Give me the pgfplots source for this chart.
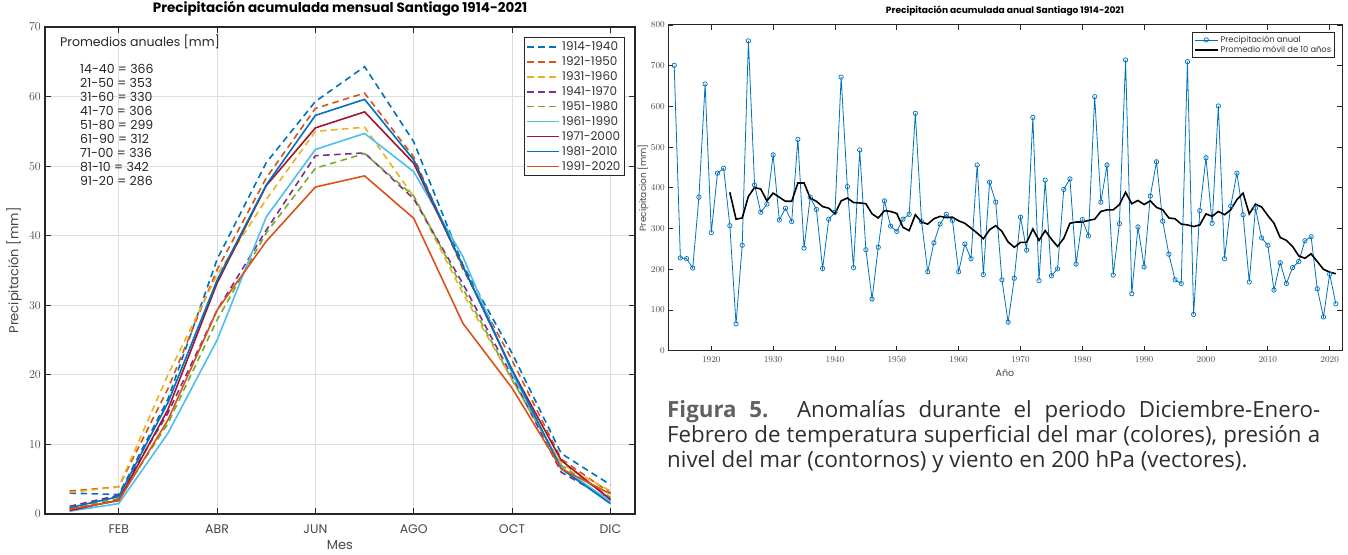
\documentclass[border=0pt]{standalone}
\usepackage{fontspec}
\setmainfont{Poppins}
\newfontfamily\capfont{Open Sans}
\usepackage{pgfplots}
\usepackage{pgfplotstable}
\pgfplotsset{compat=1.18}
\definecolor{mblue}{rgb}{0,0.447,0.741}
\definecolor{morange}{rgb}{0.85,0.325,0.098}
\definecolor{myellow}{rgb}{0.929,0.694,0.125}
\definecolor{mpurple}{rgb}{0.494,0.184,0.556}
\definecolor{mgreen}{rgb}{0.466,0.674,0.188}
\definecolor{mlblue}{rgb}{0.301,0.745,0.933}
\definecolor{mred}{rgb}{0.635,0.078,0.184}
\definecolor{axgray}{rgb}{0.15,0.15,0.15}

\pgfplotstableread{
m   s1    s2    s3    s4    s5    s6    s7    s8    s9
1   3.0   3.3   3.1   1.1   0.8   0.4   0.5   0.9   0.7
2   2.8   3.9   3.9   2.7   2.2   1.5   2.0   2.5   1.9
3   16.5  18.0  20.0  14.5  13.0  11.6  15.0  16.0  13.5
4   36.6  35.1  34.4  29.3  27.9  25.0  33.2  33.6  29.3
5   50.5  48.3  45.2  40.8  40.4  42.7  47.2  47.3  39.2
6   59.3  58.3  55.0  51.5  49.7  52.4  55.5  57.3  47.0
7   64.3  60.5  55.6  51.9  51.8  54.7  57.8  59.6  48.6
8   53.5  51.3  45.6  45.3  45.7  49.2  50.4  50.9  42.5
9   35.8  35.2  31.7  33.1  32.4  37.0  35.6  35.6  27.4
10  23.1  22.1  19.3  19.8  19.3  20.2  20.7  20.7  18.1
11  8.7   7.9   7.2   6.0   7.0   6.7   7.7   6.5   6.5
12  4.2   3.0   3.3   2.0   2.4   1.8   2.1   1.5   2.9
}\monthly

\pgfplotstableread{
year pp
1914 701
1915 228
1916 226
1917 203
1918 377
1919 655
1920 290
1921 436
1922 448
1923 307
1924 66
1925 259
1926 761
1927 407
1928 340
1929 360
1930 481
1931 321
1932 350
1933 317
1934 519
1935 252
1936 377
1937 347
1938 202
1939 323
1940 340
1941 672
1942 403
1943 204
1944 493
1945 248
1946 127
1947 254
1948 368
1949 306
1950 293
1951 323
1952 335
1953 583
1954 317
1955 194
1956 265
1957 311
1958 335
1959 320
1960 194
1961 262
1962 226
1963 456
1964 187
1965 414
1966 365
1967 174
1968 70
1969 178
1970 328
1971 247
1972 573
1973 172
1974 419
1975 184
1976 201
1977 396
1978 422
1979 213
1980 322
1981 282
1982 624
1983 365
1984 456
1985 186
1986 312
1987 714
1988 140
1989 304
1990 206
1991 380
1992 464
1993 318
1994 237
1995 174
1996 165
1997 710
1998 89
1999 344
2000 474
2001 313
2002 601
2003 226
2004 355
2005 436
2006 334
2007 169
2008 350
2009 277
2010 259
2011 149
2012 216
2013 165
2014 204
2015 219
2016 270
2017 280
2018 152
2019 83
2020 188
2021 115
}\annual

\pgfplotstableread{
year ma
1923 389
1924 323
1925 326
1926 379
1927 401
1928 397
1929 368
1930 387
1931 377
1932 367
1933 367
1934 412
1935 412
1936 375
1937 367
1938 354
1939 350
1940 336
1941 368
1942 375
1943 364
1944 363
1945 361
1946 336
1947 326
1948 344
1949 342
1950 337
1951 303
1952 295
1953 334
1954 316
1955 311
1956 324
1957 330
1958 327
1959 328
1960 319
1961 313
1962 301
1963 289
1964 275
1965 297
1966 307
1967 293
1968 267
1969 254
1970 266
1971 266
1972 299
1973 271
1974 295
1975 274
1976 256
1977 276
1978 313
1979 316
1980 316
1981 320
1982 323
1983 342
1984 346
1985 346
1986 359
1987 389
1988 361
1989 369
1990 359
1991 368
1992 352
1993 346
1994 326
1995 324
1996 311
1997 309
1998 305
1999 309
2000 336
2001 330
2002 342
2003 334
2004 346
2005 371
2006 387
2007 336
2008 360
2009 353
2010 332
2011 313
2012 278
2013 271
2014 256
2015 233
2016 227
2017 238
2018 219
2019 200
2020 193
2021 189
}\movavg

\begin{document}
\begin{tikzpicture}
\useasboundingbox (0pt,0pt) rectangle (1348pt,554pt);

% ---------------- Left chart ----------------
\begin{axis}[
  at={(45pt,40pt)}, anchor=south west,
  scale only axis, width=590pt, height=487pt,
  xmin=0.5, xmax=12.5, ymin=0, ymax=70,
  xtick={2,4,6,8,10,12},
  xticklabels={FEB,ABR,JUN,AGO,OCT,DIC},
  ytick={0,10,20,30,40,50,60,70},
  grid=major,
  grid style={black!13, line width=0.8pt},
  tick align=inside,
  major tick length=6pt,
  every tick/.style={axgray, line width=1pt},
  axis line style={axgray, line width=1.3pt},
  tick label style={font=\fontsize{12.5}{14}\selectfont, text=black!72},
  xticklabel style={anchor=base, yshift=-19pt, inner sep=0pt},
  yticklabel style={anchor=east, inner sep=0pt, xshift=-4pt},
  title={\bfseries Precipitación acumulada mensual Santiago 1914-2021},
  title style={at={(axis description cs:0.5,1)}, anchor=base, yshift=8pt, inner sep=0pt, font=\fontsize{13.5}{15}\selectfont},
  xlabel={Mes},
  xlabel style={at={(axis description cs:0.5,-0.0719)}, anchor=base, inner sep=0pt, font=\fontsize{13}{15}\selectfont, text=black!72},
  ylabel={Precipitación [mm]},
  ylabel style={at={(axis description cs:-0.0525,0.5)}, anchor=center, inner sep=0pt, font=\fontsize{13}{15}\selectfont, text=black!72},
  legend cell align=left,
  legend style={at={(rel axis cs:0.983,0.979)}, anchor=north east,
    draw=axgray, line width=1pt, font=\fontsize{12}{15.5}\selectfont,
    row sep=0.6pt, inner sep=2pt, text=black!80},
  legend image code/.code={\draw[#1, line width=1.6pt] (0pt,0pt) -- (32pt,0pt);},
  every axis plot/.append style={line width=1.6pt},
]
\addplot[mblue, dash pattern=on 6.5pt off 4.5pt] table[x=m,y=s1]{\monthly};
\addlegendentry{1914-1940}
\addplot[morange, dash pattern=on 6.5pt off 4.5pt] table[x=m,y=s2]{\monthly};
\addlegendentry{1921-1950}
\addplot[myellow, dash pattern=on 6.5pt off 4.5pt] table[x=m,y=s3]{\monthly};
\addlegendentry{1931-1960}
\addplot[mpurple, dash pattern=on 6.5pt off 4.5pt] table[x=m,y=s4]{\monthly};
\addlegendentry{1941-1970}
\addplot[mgreen, dash pattern=on 6.5pt off 4.5pt] table[x=m,y=s5]{\monthly};
\addlegendentry{1951-1980}
\addplot[mlblue] table[x=m,y=s6]{\monthly};
\addlegendentry{1961-1990}
\addplot[mred] table[x=m,y=s7]{\monthly};
\addlegendentry{1971-2000}
\addplot[mblue] table[x=m,y=s8]{\monthly};
\addlegendentry{1981-2010}
\addplot[morange] table[x=m,y=s9]{\monthly};
\addlegendentry{1991-2020}

\node[anchor=west, inner sep=0pt, font=\fontsize{12.5}{14}\selectfont, text=black!85]
  at (rel axis cs:0.0254,0.969) {Promedios anuales [mm]};
\node[anchor=north west, inner sep=0pt, align=left, font=\fontsize{12.5}{14}\selectfont, text=black!85]
  at (rel axis cs:0.0593,0.923) {14-40 = 366\\21-50 = 353\\31-60 = 330\\41-70 = 306\\51-80 = 299\\61-90 = 312\\71-00 = 336\\81-10 = 342\\91-20 = 286};
\end{axis}

% ---------------- Right chart ----------------
\begin{axis}[
  at={(668pt,203.3pt)}, anchor=south west,
  scale only axis, width=674pt, height=325.7pt,
  xmin=1913, xmax=2022, ymin=0, ymax=800,
  xtick={1920,1930,...,2020},
  ytick={0,100,...,800},
  /pgf/number format/1000 sep={},
  tick align=inside,
  major tick length=5pt,
  every tick/.style={axgray, line width=0.8pt},
  axis line style={axgray, line width=1pt},
  tick label style={font=\fontsize{8.8}{10}\selectfont, text=black!72},
  xticklabel style={anchor=base, yshift=-11.5pt, inner sep=0pt},
  yticklabel style={anchor=east, inner sep=0pt, xshift=-3pt},
  title={\bfseries Precipitación acumulada anual Santiago 1914-2021},
  title style={at={(axis description cs:0.5,1)}, anchor=base, yshift=5.5pt, inner sep=0pt, font=\fontsize{9.1}{10}\selectfont},
  xlabel={Año},
  xlabel style={at={(axis description cs:0.5,-0.0777)}, anchor=base, inner sep=0pt, font=\fontsize{9.5}{11}\selectfont, text=black!72},
  ylabel={Precipitacion [mm]},
  ylabel style={at={(axis description cs:-0.0371,0.5)}, anchor=center, inner sep=0pt, font=\fontsize{9}{11}\selectfont, text=black!72},
  legend cell align=left,
  legend style={at={(rel axis cs:0.9896,0.9785)}, anchor=north east,
    draw=axgray, line width=0.8pt, font=\fontsize{8.3}{10}\selectfont,
    row sep=-1.8pt, inner sep=1.5pt, text=black!80},
  legend image code/.code={\draw[mark repeat=2,mark phase=2,#1] plot coordinates {(0pt,0pt) (11.5pt,0pt) (23pt,0pt)};},
]
\addplot[mblue, line width=0.8pt, mark=o, mark size=2.2pt, mark options={line width=0.7pt}] table[x=year,y=pp]{\annual};
\addlegendentry{Precipitación anual}
\addplot[black, line width=1.6pt] table[x=year,y=ma]{\movavg};
\addlegendentry{Promedio móvil de 10 años}
\end{axis}

% ---------------- Caption ----------------
\node[anchor=base west, inner sep=0pt, align=left,
      font=\capfont\fontsize{22.3}{24.6}\selectfont, text=black!82]
  at (667pt,87pt) {\makebox[653pt][s]{{\bfseries\color{black!62}Figura 5.} Anomalías durante el periodo Diciembre-Enero-}\\
  \makebox[653pt][s]{Febrero de temperatura superficial del mar (colores), presión a}\\
  nivel del mar (contornos) y viento en 200 hPa (vectores).};
\end{tikzpicture}
\end{document}
